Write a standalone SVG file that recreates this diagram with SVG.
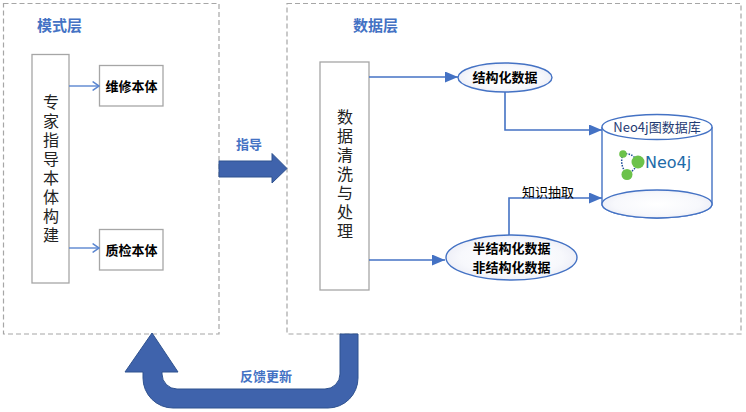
<svg xmlns="http://www.w3.org/2000/svg" width="746" height="412" viewBox="0 0 746 412">
<style>
.panel{fill:#fff;stroke:#A6A6A6;stroke-width:1.2;stroke-dasharray:5 3}
.box{fill:#fff;stroke:#A6A6A6;stroke-width:1.3}
.ell{fill:url(#eg);stroke:#4472C4;stroke-width:1.4}
.title{font-family:"Noto Sans CJK SC","Liberation Sans",sans-serif;font-size:15px;font-weight:bold;fill:#4472C4}
.lbl{font-family:"Noto Sans CJK SC","Liberation Sans",sans-serif;font-size:13px;font-weight:bold;fill:#000}
.vt{font-family:"Noto Sans CJK SC","Liberation Sans",sans-serif;font-size:16px;fill:#222;writing-mode:vertical-rl;letter-spacing:3px}
.blue{font-family:"Noto Sans CJK SC","Liberation Sans",sans-serif;font-size:13px;font-weight:bold;fill:#4472C4}
.line{fill:none;stroke:#4472C4;stroke-width:1.6}
.thin{fill:none;stroke:#5B86D0;stroke-width:1.4}
.big{fill:#3F63AC;stroke:#2F528F;stroke-width:1}
</style>
<defs>
<radialGradient id="eg" cx="50%" cy="50%" r="60%">
<stop offset="0" stop-color="#ffffff"/>
<stop offset="0.65" stop-color="#F7F8FC"/>
<stop offset="1" stop-color="#E6E8F3"/>
</radialGradient>
<marker id="tri2" viewBox="0 0 10 10" refX="10" refY="5" markerWidth="13" markerHeight="11" markerUnits="userSpaceOnUse" orient="auto" preserveAspectRatio="none">
<path d="M0,0 L10,5 L0,10 Z" fill="#4472C4"/>
</marker>
<marker id="open" viewBox="0 0 10 10" refX="9" refY="5" markerWidth="8" markerHeight="10" markerUnits="userSpaceOnUse" orient="auto" preserveAspectRatio="none">
<path d="M1,0.5 L9,5 L1,9.5" fill="none" stroke="#5B86D0" stroke-width="1.5"/>
</marker>
</defs>
<rect width="746" height="412" fill="#fff"/>

<g id="model-layer">
<rect class="panel" x="3.5" y="3.5" width="215.5" height="330.5"/>
<text class="title" x="37" y="31">模式层</text>
</g>
<g id="data-layer">
<rect class="panel" x="287" y="3.5" width="454" height="330.5"/>
<text class="title" x="353" y="31">数据层</text>
</g>

<g id="expert">
<rect class="box" x="32" y="54.5" width="37" height="228.5"/>
<text class="vt" x="51" y="94">专家指导本体构建</text>
</g>
<g id="repair">
<rect class="box" x="99.5" y="65.5" width="63.5" height="40.5"/>
<text class="lbl" x="131.5" y="90.5" text-anchor="middle">维修本体</text>
</g>
<g id="quality">
<rect class="box" x="99.5" y="229.5" width="63.5" height="40.5"/>
<text class="lbl" x="131.5" y="254.5" text-anchor="middle">质检本体</text>
</g>

<g id="cleaning">
<rect class="box" x="320" y="62" width="49" height="228"/>
<text class="vt" x="345" y="109">数据清洗与处理</text>
</g>

<g id="structured">
<ellipse class="ell" cx="505" cy="77.5" rx="47" ry="14.5"/>
<text class="lbl" x="505" y="82" text-anchor="middle">结构化数据</text>
</g>
<g id="semi">
<ellipse class="ell" cx="511.5" cy="257.5" rx="65.5" ry="22.5"/>
<text class="lbl" text-anchor="middle"><tspan x="511.5" y="253">半结构化数据</tspan><tspan x="511.5" y="272">非结构化数据</tspan></text>
</g>

<g id="neo4j-db">
<path d="M602,127 L602,204 A55,14 0 0 0 712,204 L712,127" fill="#fff" stroke="#4472C4" stroke-width="1.4"/>
<ellipse cx="657" cy="204" rx="55" ry="14" fill="url(#eg)" stroke="#4472C4" stroke-width="1.4"/>
<ellipse cx="657" cy="127" rx="55" ry="12.5" fill="#fff" stroke="#4472C4" stroke-width="1.4"/>
<text x="657" y="132" text-anchor="middle" font-family="'Noto Sans CJK SC','Liberation Sans',sans-serif" font-size="13" fill="#1F3B73">Neo4j图数据库</text>
<g id="logo">
<path d="M623,154 Q632,152 638,162 M623,154 Q619,165 627,174 M627,174 Q636,170 638,162" fill="none" stroke="#1F4E9A" stroke-width="1.5" stroke-dasharray="1.5 1.3"/>
<circle cx="623" cy="154" r="3.8" fill="#6CC24A"/>
<circle cx="638" cy="162" r="6.5" fill="#6CC24A"/>
<circle cx="627" cy="174.5" r="5.5" fill="#6CC24A"/>
<text x="645" y="168" font-family="'DejaVu Sans','Liberation Sans',sans-serif" font-size="16" fill="#1E6BA8">Neo4j</text>
</g>
</g>

<g id="connectors">
<line class="thin" x1="69" y1="86" x2="99" y2="86" marker-end="url(#open)"/>
<line class="thin" x1="69" y1="248" x2="99" y2="248" marker-end="url(#open)"/>
<line class="line" x1="369" y1="77" x2="458" y2="77" marker-end="url(#tri2)"/>
<line class="line" x1="369" y1="260" x2="445" y2="260" marker-end="url(#tri2)"/>
<path class="line" d="M505,92 L505,130 L602,130" marker-end="url(#tri2)"/>
<path class="line" d="M509,235 L509,198 L602,198" marker-end="url(#tri2)"/>
<text x="522" y="197" font-family="'Noto Sans CJK SC','Liberation Sans',sans-serif" font-size="13" fill="#000">知识抽取</text>
<path class="big" d="M219,161 L272,161 L272,153.5 L287,168.5 L272,183 L272,177 L219,177 Z"/>
<text class="blue" x="236" y="149">指导</text>
<path class="big" d="M358,334 L358,378 A30,30 0 0 1 328,408 L173,408 A30,30 0 0 1 143,378 L143,372 L125,372 L152,333 L178,372 L162,372 L162,374 A15,15 0 0 0 177,389 L325,389 A15,15 0 0 0 340,374 L340,334 Z"/>
<text class="blue" x="240" y="381">反馈更新</text>
</g>
</svg>
